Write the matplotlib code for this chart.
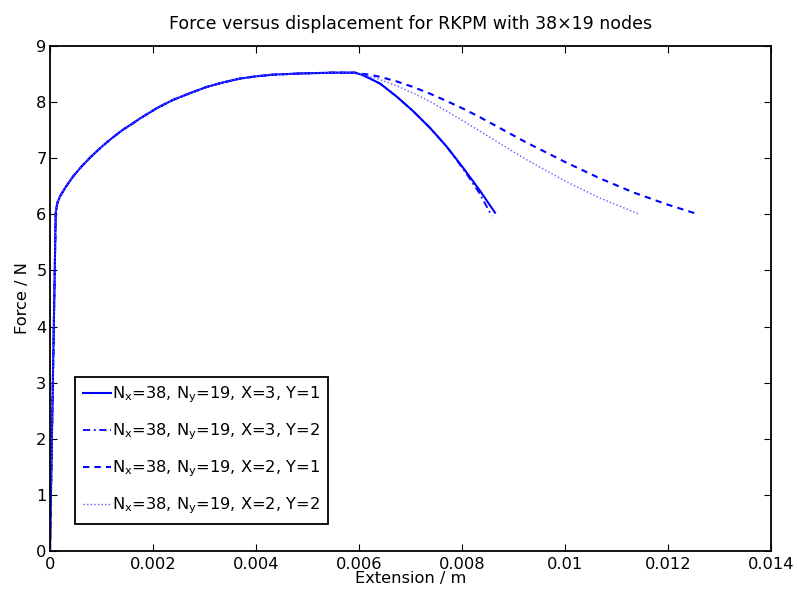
import matplotlib
matplotlib.use("Agg")
import matplotlib.pyplot as plt
import numpy as np

plt.rcParams['font.family'] = ['DejaVu Sans']
plt.rcParams['mathtext.fontset'] = 'dejavusans'

# ---- data ----
# shared loading branch
load_x = [0.0, 0.000111, 0.000142, 0.000194, 0.00030, 0.000452, 0.00062, 0.000777,
          0.00095, 0.00110, 0.00126, 0.00142, 0.00159, 0.00175, 0.00207, 0.00239,
          0.00272, 0.00304, 0.00336, 0.00369, 0.00401, 0.00434, 0.00485, 0.00550,
          0.00592]
load_y = [0.0, 6.02, 6.20, 6.32, 6.48, 6.68, 6.86, 7.01,
          7.16, 7.28, 7.40, 7.51, 7.61, 7.71, 7.89, 8.04,
          8.16, 8.27, 8.35, 8.42, 8.46, 8.49, 8.51, 8.525,
          8.525]

# softening branches
s1_x = [0.00608, 0.00641, 0.00673, 0.00705, 0.00738, 0.00770, 0.00803, 0.00835, 0.00864]
s1_y = [8.48, 8.33, 8.10, 7.84, 7.54, 7.21, 6.82, 6.42, 6.03]

s2_x = [0.00608, 0.00641, 0.00673, 0.00705, 0.00738, 0.00770, 0.00803, 0.00833, 0.00858]
s2_y = [8.48, 8.33, 8.10, 7.84, 7.54, 7.21, 6.80, 6.39, 5.97]

s3_x = [0.00600, 0.00620, 0.00641, 0.00673, 0.00705, 0.00738, 0.00770, 0.00803, 0.00835,
        0.00867, 0.00919, 0.00938, 0.01003, 0.01068, 0.01133, 0.01197, 0.01252]
s3_y = [8.51, 8.49, 8.45, 8.37, 8.27, 8.15, 8.02, 7.88, 7.73,
        7.57, 7.31, 7.22, 6.92, 6.64, 6.39, 6.18, 6.02]

s4_x = [0.00600, 0.00620, 0.00641, 0.00673, 0.00705, 0.00738, 0.00770, 0.00803, 0.00835,
        0.00867, 0.00926, 0.01003, 0.01068, 0.01142]
s4_y = [8.51, 8.46, 8.40, 8.29, 8.16, 8.01, 7.84, 7.66, 7.48,
        7.30, 6.97, 6.58, 6.29, 6.01]

labels = [r'N$_{\rm x}$=38, N$_{\rm y}$=19, X=3, Y=1',
          r'N$_{\rm x}$=38, N$_{\rm y}$=19, X=3, Y=2',
          r'N$_{\rm x}$=38, N$_{\rm y}$=19, X=2, Y=1',
          r'N$_{\rm x}$=38, N$_{\rm y}$=19, X=2, Y=2']

xticks = [0, 0.002, 0.004, 0.006, 0.008, 0.010, 0.012, 0.014]
xtick_labels = ['0', '0.002', '0.004', '0.006', '0.008', '0.01', '0.012', '0.014']
yticks = [0, 1, 2, 3, 4, 5, 6, 7, 8, 9]

title = 'Force versus displacement for RKPM with 38\u00d719 nodes'

# ---- figure ----
W, H = 797, 589
fig = plt.figure(figsize=(W / 100, H / 100), dpi=100)
ax = fig.add_axes([50 / W, (H - 551) / H, (771 - 50) / W, (551 - 46) / H])

blue = (0, 0, 1)
series = [
    (s1_x, s1_y, dict(ls='-', lw=1.5, color=blue)),
    (s2_x, s2_y, dict(ls=(0, (4, 2, 1, 2)), lw=1.3, color=blue)),
    (s3_x, s3_y, dict(ls=(0, (3, 2.5)), lw=1.5, color=blue)),
    (s4_x, s4_y, dict(ls=(0, (1, 1.6)), lw=1.0, color=(0.35, 0.35, 1.0))),
]
handles = []
for (sx, sy, style), lab in zip(series, labels):
    x = np.concatenate([load_x, sx])
    y = np.concatenate([load_y, sy])
    h, = ax.plot(x, y, label=lab, **style)
    handles.append(h)

ax.set_xlim(0, 0.014)
ax.set_ylim(0, 9)
ax.set_xticks(xticks)
ax.set_xticklabels(xtick_labels)
ax.set_yticks(yticks)
ax.tick_params(direction='in', length=5, width=0.8, top=True, right=True,
               labelsize=11.7, colors='black')
ax.tick_params(axis='x', pad=4)
ax.tick_params(axis='y', pad=2.5)
for sp in ax.spines.values():
    sp.set_linewidth(1.3)

ax.set_title(title, fontsize=12.5, pad=12)
ax.set_xlabel('Extension / m', fontsize=11.7)
ax.xaxis.set_label_coords(0.5, -0.040)
ax.set_ylabel('Force / N', fontsize=11.7)
ax.yaxis.set_label_coords(-0.028, 0.5)

leg = ax.legend(handles=handles, loc='lower left',
                bbox_to_anchor=(75 / W, (H - 524.3) / H), bbox_transform=fig.transFigure,
                borderaxespad=0, fontsize=11.7, handlelength=1.75, handletextpad=0.05,
                borderpad=0.48, labelspacing=1.02, fancybox=False, framealpha=1,
                edgecolor='black')
leg.get_frame().set_linewidth(1.3)

fig.savefig('out.png', dpi=100)
